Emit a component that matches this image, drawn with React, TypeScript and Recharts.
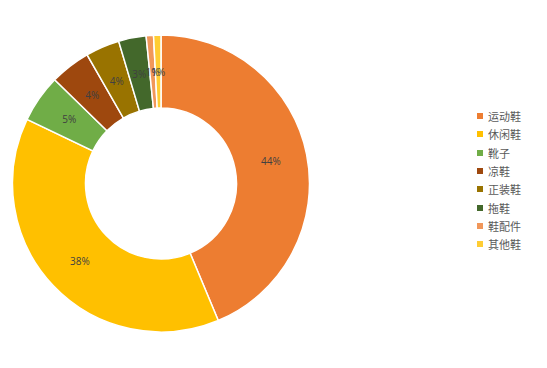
import { PieChart, Pie, Cell, Legend } from 'recharts'

const categories = ['运动鞋', '休闲鞋', '靴子', '凉鞋', '正装鞋', '拖鞋', '鞋配件', '其他鞋']
const shares = [43.7, 38.4, 5.2, 4.4, 3.7, 3.0, 0.8, 0.8]
const colors = ['#ED7D31', '#FFC000', '#70AD47', '#9E480E', '#997300', '#43682B', '#F1975A', '#FFCD33']

const data = categories.map((name, i) => ({ name, value: shares[i] }))

const RADIAN = Math.PI / 180

function renderLabel(props: any) {
  const { cx, cy, midAngle, innerRadius, outerRadius, percent } = props
  const r = (innerRadius + outerRadius) / 2
  const x = cx + r * Math.cos(-midAngle * RADIAN)
  const y = cy + r * Math.sin(-midAngle * RADIAN)
  return (
    <text
      x={x}
      y={y}
      fill="#404040"
      fontSize={10}
      fontFamily="'Open Sans', sans-serif"
      textAnchor="middle"
      dominantBaseline="central"
    >
      {Math.round(percent * 100)}%
    </text>
  )
}

function ShoeLegend() {
  return (
    <div style={{ fontFamily: "'Noto Sans CJK SC', sans-serif", fontSize: 11, color: '#595959' }}>
      {categories.map((c, i) => (
        <div key={c} style={{ display: 'flex', alignItems: 'center', height: 18.3 }}>
          <span style={{ width: 6, height: 6, background: colors[i], marginRight: 5, display: 'inline-block' }} />
          <span>{c}</span>
        </div>
      ))}
    </div>
  )
}

export default function App() {
  return (
    <div style={{ position: 'absolute', left: 0, top: 0, width: 547, height: 368, background: '#fff' }}>
      <PieChart width={547} height={368} margin={{ top: 0, right: 0, bottom: 0, left: 0 }}>
        <Pie
          data={data}
          dataKey="value"
          nameKey="name"
          cx={161}
          cy={183.5}
          innerRadius={75.5}
          outerRadius={148.5}
          startAngle={90}
          endAngle={-270}
          stroke="#fff"
          strokeWidth={1.5}
          label={renderLabel}
          labelLine={false}
          isAnimationActive={false}
        >
          {data.map((d, i) => (
            <Cell key={d.name} fill={colors[i]} />
          ))}
        </Pie>
        <Legend content={<ShoeLegend />} wrapperStyle={{ left: 477, top: 107, width: 70 }} />
      </PieChart>
    </div>
  )
}
